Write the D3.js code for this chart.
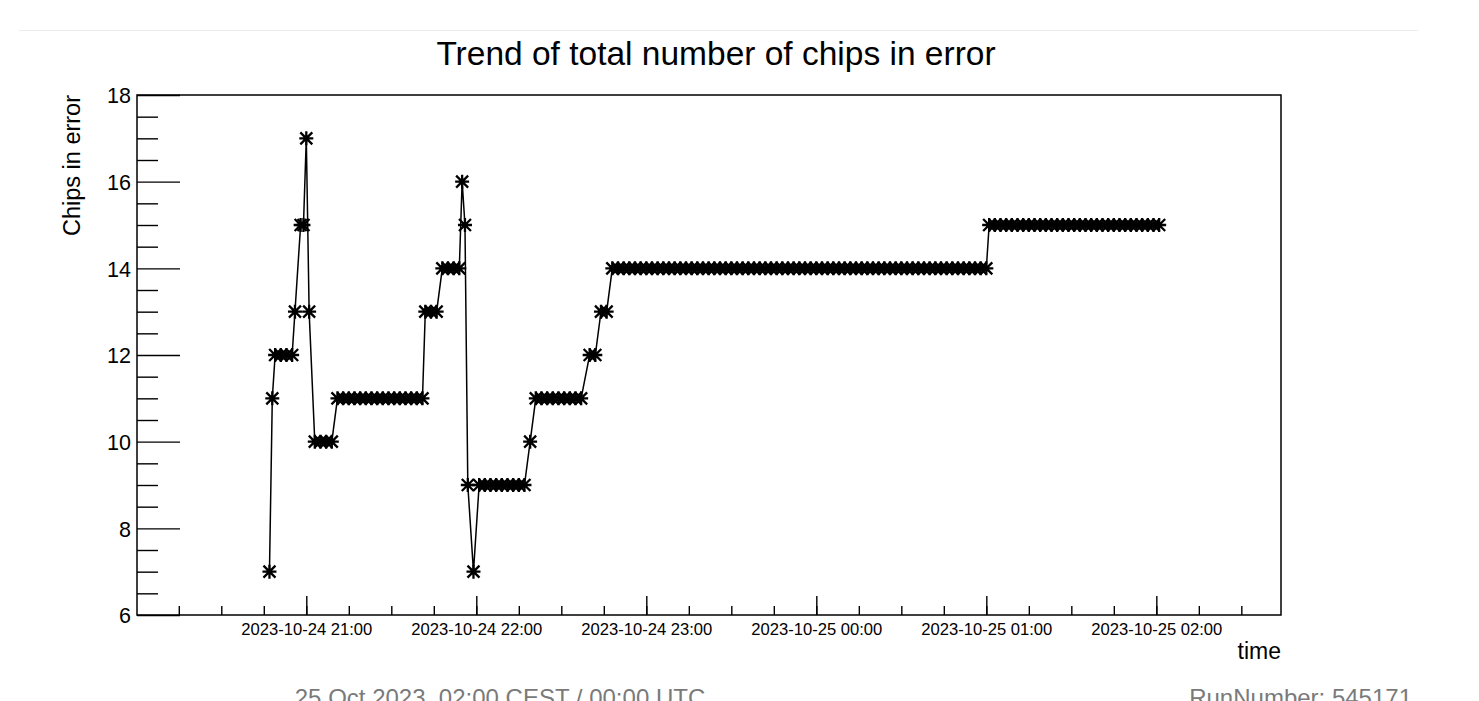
<!DOCTYPE html>
<html>
<head>
<meta charset="utf-8">
<script src="https://cdn.jsdelivr.net/npm/d3@7"></script>
<style>
  html, body { margin: 0; padding: 0; background: #fff; overflow: hidden; }
  svg { display: block; font-family: "Liberation Sans", Arial, Helvetica, sans-serif; }
</style>
</head>
<body>
<svg id="chart" width="1479" height="701"></svg>
<script>
// Chips in error, one reading per time stamp (local clock, 24 and 25 Oct 2023)
const timesOct24 = [
  "20:47","20:48","20:49","20:51","20:53","20:55","20:56","20:58","20:59","21:00","21:01",
  "21:03","21:05","21:07","21:09",
  "21:11","21:13","21:15","21:17","21:19","21:21","21:23","21:25","21:27","21:29","21:31","21:33","21:35","21:37","21:39","21:41",
  "21:42","21:44","21:46",
  "21:48","21:50","21:52","21:54",
  "21:55","21:56","21:57","21:59",
  "22:01","22:03","22:05","22:07","22:09","22:11","22:13","22:15","22:17",
  "22:19",
  "22:21","22:23","22:25","22:27","22:29","22:31","22:33","22:35","22:37",
  "22:40","22:42",
  "22:44","22:46",
  "22:48","22:50","22:52","22:54","22:56","22:58",
  "23:00","23:02","23:04","23:06","23:08","23:10","23:12","23:14","23:16","23:18",
  "23:20","23:22","23:24","23:26","23:28","23:30","23:32","23:34","23:36","23:38",
  "23:40","23:42","23:44","23:46","23:48","23:50","23:52","23:54","23:56","23:58"
];
const chipsOct24 = [
  7,11,12,12,12,12,13,15,15,17,13,
  10,10,10,10,
  11,11,11,11,11,11,11,11,11,11,11,11,11,11,11,11,
  13,13,13,
  14,14,14,14,
  16,15,9,7,
  9,9,9,9,9,9,9,9,9,
  10,
  11,11,11,11,11,11,11,11,11,
  12,12,
  13,13,
  14,14,14,14,14,14,
  14,14,14,14,14,14,14,14,14,14,
  14,14,14,14,14,14,14,14,14,14,
  14,14,14,14,14,14,14,14,14,14
];
const timesOct25 = [
  "00:00","00:02","00:04","00:06","00:08","00:10","00:12","00:14","00:16","00:18",
  "00:20","00:22","00:24","00:26","00:28","00:30","00:32","00:34","00:36","00:38",
  "00:40","00:42","00:44","00:46","00:48","00:50","00:52","00:54","00:56","00:58","01:00",
  "01:01","01:03","01:05","01:07","01:09","01:11","01:13","01:15","01:17","01:19",
  "01:21","01:23","01:25","01:27","01:29","01:31","01:33","01:35","01:37","01:39",
  "01:41","01:43","01:45","01:47","01:49","01:51","01:53","01:55","01:57","01:59","02:01"
];
const chipsOct25 = [
  14,14,14,14,14,14,14,14,14,14,
  14,14,14,14,14,14,14,14,14,14,
  14,14,14,14,14,14,14,14,14,14,14,
  15,15,15,15,15,15,15,15,15,15,
  15,15,15,15,15,15,15,15,15,15,
  15,15,15,15,15,15,15,15,15,15,15
];

// Axis ranges and labels
const timeRange = ["2023-10-24 20:00:15", "2023-10-25 02:44:00"];
const yRange = [6, 18];
const titleText = "Trend of total number of chips in error";
const yTitle = "Chips in error";
const xTitle = "time";
const footerLeft = "25 Oct 2023, 02:00 CEST / 00:00 UTC";
const footerRight = "RunNumber: 545171";

const parseT = d3.utcParse("%Y-%m-%d %H:%M");
const parseTs = d3.utcParse("%Y-%m-%d %H:%M:%S");
const points = [
  ...timesOct24.map((t, i) => ({ t: parseT("2023-10-24 " + t), v: chipsOct24[i] })),
  ...timesOct25.map((t, i) => ({ t: parseT("2023-10-25 " + t), v: chipsOct25[i] }))
];

const svg = d3.select("#chart");
const frame = { left: 137, right: 1281, top: 95, bottom: 615 };

const x = d3.scaleUtc().domain(timeRange.map(parseTs)).range([frame.left, frame.right]);
const y = d3.scaleLinear().domain(yRange).range([frame.bottom, frame.top]);

// faint card border line at the top
svg.append("line")
  .attr("x1", 19).attr("x2", 1418).attr("y1", 30.5).attr("y2", 30.5)
  .attr("stroke", "#ececec").attr("stroke-width", 1.2);

// title
svg.append("text")
  .attr("x", 716).attr("y", 65)
  .attr("text-anchor", "middle")
  .attr("font-size", 33.5)
  .attr("fill", "#000")
  .text(titleText);

// x axis: 15-minute minor ticks and hourly major ticks pointing into the frame
const gxMinor = svg.append("g").attr("transform", `translate(0,${frame.bottom})`)
  .call(d3.axisBottom(x).ticks(d3.utcMinute.every(15)).tickSize(-9).tickFormat(""));
const gxMajor = svg.append("g").attr("transform", `translate(0,${frame.bottom})`)
  .call(d3.axisBottom(x).ticks(d3.utcHour.every(1)).tickSize(-19).tickPadding(8)
    .tickFormat(d3.utcFormat("%Y-%m-%d %H:%M")));

// y axis: half-unit minor ticks and major ticks every 2
const yMajor = y.ticks(6);
const yMinor = y.ticks(24).filter(v => !yMajor.includes(v));
const gyMinor = svg.append("g").attr("transform", `translate(${frame.left},0)`)
  .call(d3.axisLeft(y).tickValues(yMinor).tickSize(-21).tickFormat(""));
const gyMajor = svg.append("g").attr("transform", `translate(${frame.left},0)`)
  .call(d3.axisLeft(y).tickValues(yMajor).tickSize(-43).tickPadding(6).tickFormat(d3.format("d")));

[gxMinor, gxMajor, gyMinor, gyMajor].forEach(g => {
  g.select(".domain").remove();
  g.selectAll(".tick line").attr("stroke", "#000").attr("stroke-width", 1.4);
  g.selectAll("text").attr("fill", "#000").attr("font-family", null);
});
gxMajor.selectAll("text").attr("font-size", 16.6);
gyMajor.selectAll("text").attr("font-size", 21.5).attr("dy", "0.36em");

// frame
svg.append("rect")
  .attr("x", frame.left).attr("y", frame.top)
  .attr("width", frame.right - frame.left).attr("height", frame.bottom - frame.top)
  .attr("fill", "none").attr("stroke", "#000").attr("stroke-width", 1.5);

// axis titles
svg.append("text")
  .attr("transform", `translate(80,${frame.top}) rotate(-90)`)
  .attr("text-anchor", "end")
  .attr("font-size", 23.5)
  .attr("fill", "#000")
  .text(yTitle);
svg.append("text")
  .attr("x", frame.right).attr("y", 659)
  .attr("text-anchor", "end")
  .attr("font-size", 23)
  .attr("fill", "#000")
  .text(xTitle);

// trend line
svg.append("path")
  .datum(points)
  .attr("fill", "none")
  .attr("stroke", "#000")
  .attr("stroke-width", 1.5)
  .attr("d", d3.line().x(d => x(d.t)).y(d => y(d.v)));

// star markers
const star = "M-7,0H7M0,-7V7M-6,-6L6,6M-6,6L6,-6";
svg.append("g").selectAll("path")
  .data(points)
  .join("path")
  .attr("transform", d => `translate(${x(d.t)},${y(d.v)})`)
  .attr("d", star)
  .attr("fill", "none")
  .attr("stroke", "#000")
  .attr("stroke-width", 2.3);

// footer
svg.append("text")
  .attr("x", 500).attr("y", 706)
  .attr("text-anchor", "middle")
  .attr("font-size", 24)
  .attr("fill", "#7a7a7a")
  .text(footerLeft);
svg.append("text")
  .attr("x", 1412).attr("y", 706)
  .attr("text-anchor", "end")
  .attr("font-size", 24)
  .attr("fill", "#7a7a7a")
  .text(footerRight);
</script>
</body>
</html>
